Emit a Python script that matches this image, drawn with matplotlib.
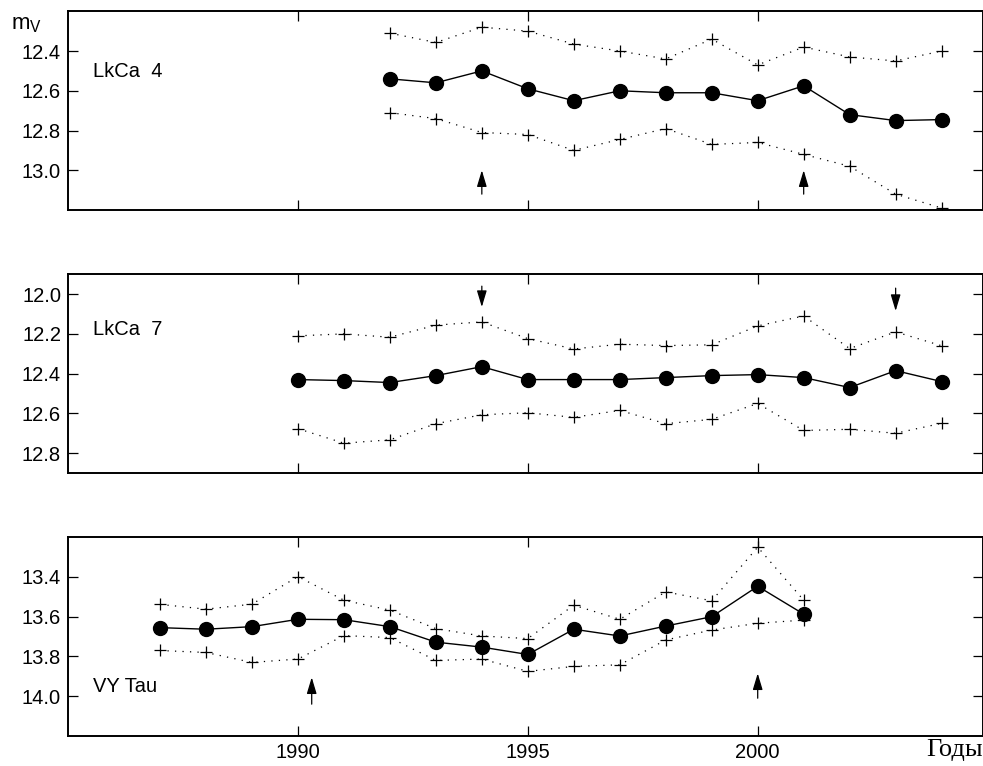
import matplotlib
matplotlib.use('Agg')
import matplotlib.pyplot as plt
import numpy as np

plt.rcParams['font.family'] = ['Liberation Sans', 'DejaVu Sans']

# LkCa 4
years_4 = np.arange(1992, 2005)
mean_4 = [12.54, 12.56, 12.50, 12.59, 12.65, 12.60, 12.61, 12.61, 12.65, 12.575, 12.72, 12.75, 12.745]
upper_4 = [12.31, 12.357, 12.28, 12.30, 12.365, 12.40, 12.44, 12.34, 12.47, 12.38, 12.43, 12.45, 12.40]
lower_4 = [12.71, 12.74, 12.81, 12.82, 12.90, 12.845, 12.79, 12.87, 12.86, 12.92, 12.98, 13.12, 13.19]

# LkCa 7
years_7 = np.arange(1990, 2005)
mean_7 = [12.43, 12.435, 12.445, 12.41, 12.365, 12.43, 12.43, 12.43, 12.42, 12.41, 12.405, 12.42, 12.47, 12.385, 12.44]
upper_7 = [12.21, 12.20, 12.217, 12.156, 12.14, 12.224, 12.276, 12.252, 12.259, 12.255, 12.16, 12.11, 12.274, 12.19, 12.26]
lower_7 = [12.677, 12.75, 12.733, 12.652, 12.607, 12.597, 12.62, 12.585, 12.652, 12.63, 12.55, 12.686, 12.68, 12.70, 12.65]

# VY Tau
years_vy = np.arange(1987, 2002)
mean_vy = [13.655, 13.663, 13.65, 13.613, 13.615, 13.65, 13.728, 13.753, 13.79, 13.663, 13.697, 13.647, 13.60, 13.447, 13.587]
upper_vy = [13.538, 13.562, 13.537, 13.398, 13.517, 13.567, 13.66, 13.697, 13.71, 13.542, 13.613, 13.475, 13.52, 13.25, 13.517]
lower_vy = [13.77, 13.78, 13.83, 13.813, 13.695, 13.705, 13.82, 13.813, 13.875, 13.85, 13.842, 13.717, 13.667, 13.633, 13.617]

# arrows: (year, tail, tip)
arrows_4 = [(1994, 13.12, 13.0), (2001, 13.12, 13.0)]
arrows_7 = [(1994, 11.96, 12.065), (2003, 11.97, 12.085)]
arrows_vy = [(1990.3, 14.04, 13.905), (2000, 14.01, 13.885)]

panels = [
    (years_4, mean_4, upper_4, lower_4, arrows_4, (12.2, 13.2), [12.4, 12.6, 12.8, 13.0], 'LkCa  4', 12.505),
    (years_7, mean_7, upper_7, lower_7, arrows_7, (11.9, 12.9), [12.0, 12.2, 12.4, 12.6, 12.8], 'LkCa  7', 12.178),
    (years_vy, mean_vy, upper_vy, lower_vy, arrows_vy, (13.2, 14.2), [13.4, 13.6, 13.8, 14.0], 'VY Tau', 13.95),
]
bottoms = [0.7258, 0.3825, 0.0392]

fig = plt.figure(figsize=(9.83, 7.66), dpi=100)
for i, (yr, mn, up, lo, arrs, ylim, yt, name, ny) in enumerate(panels):
    ax = fig.add_axes([0.0692, bottoms[i], 0.9308, 0.2595])
    ax.plot(yr, up, color='black', ls=(0, (1, 5)), lw=0.9, marker='+', ms=9, mew=0.9)
    ax.plot(yr, lo, color='black', ls=(0, (1, 5)), lw=0.9, marker='+', ms=9, mew=0.9)
    ax.plot(yr, mn, color='black', lw=1.0, marker='o', ms=10)
    for x, tail, tip in arrs:
        ax.annotate('', xy=(x, tip), xytext=(x, tail),
                    arrowprops=dict(arrowstyle='-|>,head_length=0.5,head_width=0.15', color='black',
                                    lw=0.9, mutation_scale=20, shrinkA=0, shrinkB=0))
    ax.text(1985.55, ny, name, fontsize=14.5, va='center', ha='left')
    ax.set_xlim(1985, 2004.9)
    ax.set_ylim(ylim[1], ylim[0])
    ax.set_yticks(yt)
    ax.set_yticklabels(['%.1f' % v for v in yt])
    ax.set_xticks([1990, 1995, 2000])
    ax.tick_params(direction='in', length=7, width=0.9, top=True, right=True, labelsize=14.5, pad=5)
    if i < 2:
        ax.set_xticklabels([])
    for s in ax.spines.values():
        s.set_linewidth(1.4)

fig.text(0.011, 0.962, r'$\mathregular{m_V}$', fontsize=16)
fig.text(1.0, 0.006, 'Годы', fontsize=19, ha='right', va='bottom', family=['Liberation Serif', 'DejaVu Serif'])

plt.savefig('out.png', dpi=100)
